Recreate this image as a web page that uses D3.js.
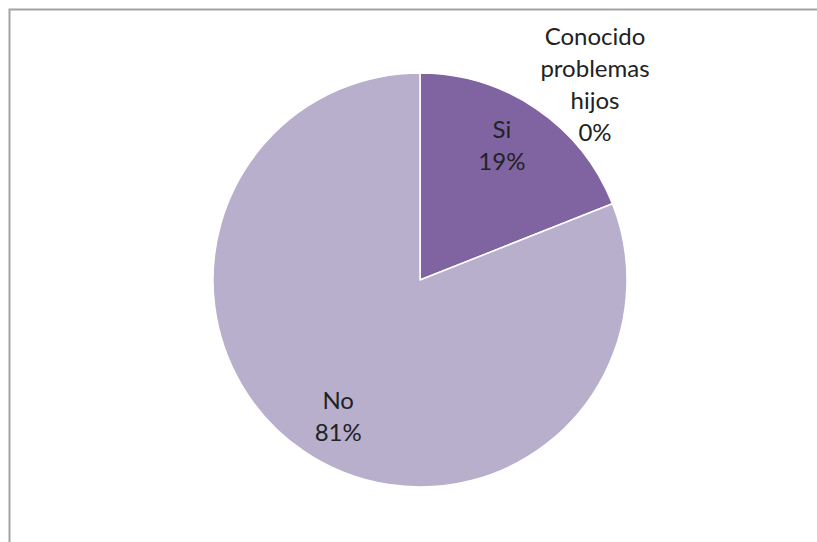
<!DOCTYPE html>
<html><head><meta charset="utf-8">
<script src="https://cdn.jsdelivr.net/npm/d3@7"></script>
<style>html,body{margin:0;padding:0;background:#fff;}svg{display:block;}</style>
</head><body>
<svg id="c" width="817" height="542"></svg>
<script>
const categories = ["Conocido problemas hijos", "Si", "No"];
const values = [0, 19, 81];
const labelLines = [["Conocido", "problemas", "hijos"], ["Si"], ["No"]];
const colors = ["#4F81BD", "#8064A2", "#B8AFCD"];

const svg = d3.select("#c");
const W = 817, H = 542;
// frame
svg.append("path").attr("d", `M9.5,${H+5} V9.5 H${W+5}`).attr("fill","none")
  .attr("stroke","#a3a3a3").attr("stroke-width",2);

const cx = 420, cy = 280, R = 207;
const pie = d3.pie().sort(null).value(d => d)(values);
const arc = d3.arc().innerRadius(0).outerRadius(R);
const g = svg.append("g").attr("transform", `translate(${cx},${cy})`);
const color = d3.scaleOrdinal().domain(categories).range(colors);

g.selectAll("path.s").data(pie).enter().append("path").attr("class","s")
  .attr("d", arc).attr("fill", (d,i) => color(categories[i]))
  .attr("stroke", "#fff").attr("stroke-width", 1.5).attr("stroke-linejoin","round");

const total = d3.sum(values);
const fs = 24, lh = 32, lr = 158, rot = -3 * Math.PI / 180;
pie.forEach((d, i) => {
  const pct = Math.round(values[i] / total * 100) + "%";
  const lines = labelLines[i].concat([pct]);
  let x, y;
  if (values[i] === 0) {
    x = 175; y = -197 - lh * (lines.length - 1) / 2;
  } else {
    const a = (d.startAngle + d.endAngle) / 2 + rot;
    x = lr * Math.sin(a); y = -lr * Math.cos(a) - lh * (lines.length - 1) / 2;
  }
  const t = g.append("text").attr("text-anchor","middle")
    .attr("font-family","Lato, 'Open Sans', sans-serif").attr("font-size", fs)
    .attr("fill","#222");
  lines.forEach((s, k) => t.append("tspan").attr("x", x).attr("y", y + k*lh)
    .attr("dominant-baseline","central").text(s));
});
</script>
</body></html>
